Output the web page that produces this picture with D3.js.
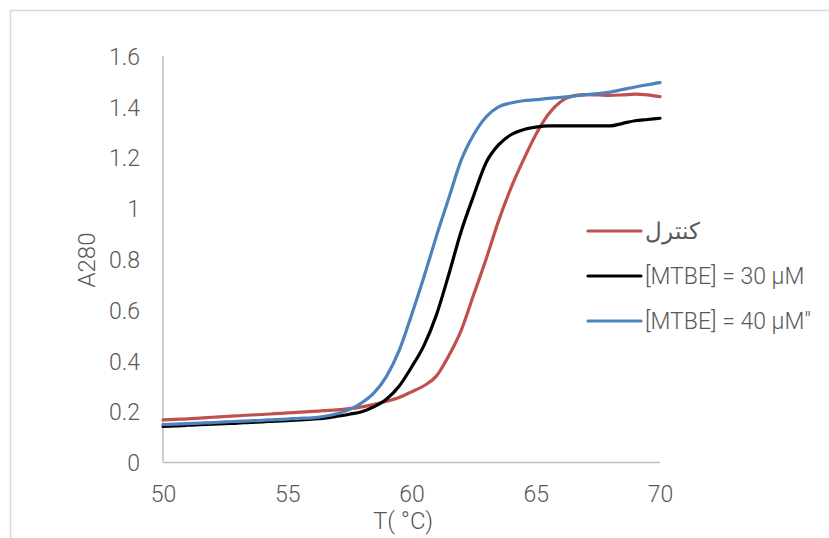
<!DOCTYPE html>
<html><head><meta charset="utf-8">
<script src="https://cdn.jsdelivr.net/npm/d3@7"></script>
<style>
body{margin:0;background:#fff;}
svg text{font-family:Roboto,"Noto Sans",sans-serif;fill:#595959;font-weight:300;}
</style></head>
<body>
<svg id="c" width="829" height="538"></svg>
<script>
const temps = [50,50.5,51,51.5,52,52.5,53,53.5,54,54.5,55,55.5,56,56.5,57,57.5,58,58.5,59,59.5,60,60.5,61,61.5,62,62.5,63,63.5,64,64.5,65,65.5,66,66.5,67,67.5,68,68.5,69,69.5,70];
const control = [0.168,0.170,0.172,0.175,0.178,0.181,0.184,0.187,0.189,0.192,0.195,0.198,0.201,0.204,0.207,0.212,0.219,0.229,0.241,0.256,0.278,0.302,0.340,0.420,0.520,0.660,0.800,0.950,1.080,1.190,1.290,1.370,1.420,1.443,1.448,1.447,1.445,1.447,1.450,1.447,1.440];
const mtbe30 = [0.142,0.144,0.147,0.149,0.151,0.153,0.155,0.158,0.160,0.163,0.165,0.168,0.171,0.175,0.182,0.190,0.200,0.220,0.250,0.300,0.375,0.460,0.580,0.740,0.910,1.050,1.180,1.250,1.290,1.310,1.320,1.325,1.325,1.325,1.325,1.325,1.325,1.335,1.345,1.350,1.355];
const mtbe40 = [0.149,0.151,0.153,0.155,0.157,0.160,0.162,0.164,0.166,0.169,0.171,0.174,0.176,0.182,0.192,0.208,0.235,0.275,0.340,0.440,0.580,0.730,0.890,1.040,1.190,1.290,1.360,1.400,1.415,1.424,1.428,1.433,1.437,1.442,1.447,1.452,1.458,1.468,1.478,1.487,1.495];
const seriesNames = ["كنترل","[MTBE] = 30 µM","[MTBE] = 40 µM\""];
const seriesColors = ["#c0504d","#000000","#4f81bd"];
const xTicks = [50,55,60,65,70];
const yTicks = [0,0.2,0.4,0.6,0.8,1,1.2,1.4,1.6];

const svg = d3.select("#c");
// outer frame
svg.append("path").attr("d","M10.5,538 V10.5 H829").attr("fill","none").attr("stroke","#d9d9d9").attr("stroke-width",1.5);

const x = d3.scaleLinear().domain([50,70]).range([163,660]);
const y = d3.scaleLinear().domain([0,1.6]).range([462.5,56]);

// axes lines
svg.append("line").attr("x1",x(50)).attr("x2",x(50)).attr("y1",y(1.6)).attr("y2",y(0)).attr("stroke","#bfbfbf").attr("stroke-width",1.5);
svg.append("line").attr("x1",x(50)).attr("x2",x(70)).attr("y1",y(0)).attr("y2",y(0)).attr("stroke","#bfbfbf").attr("stroke-width",1.5);

const yAxis = d3.axisLeft(y).tickValues(yTicks).tickSize(0).tickPadding(23).tickFormat(d=>String(d));
const gy = svg.append("g").attr("transform",`translate(${x(50)},0)`).call(yAxis);
gy.select(".domain").remove();
gy.selectAll("text").style("font-size","23px").attr("fill","#595959").attr("dy","0.36em");

const xAxis = d3.axisBottom(x).tickValues(xTicks).tickSize(0).tickPadding(23).tickFormat(d=>String(d));
const gx = svg.append("g").attr("transform",`translate(0,${y(0)})`).call(xAxis);
gx.select(".domain").remove();
gx.selectAll("text").style("font-size","23px").attr("fill","#595959");

const line = d3.line().x((d,i)=>x(temps[i])).y(d=>y(d)).curve(d3.curveMonotoneX);
[control,mtbe30,mtbe40].forEach((s,k)=>{
  svg.append("path").datum(s).attr("d",line).attr("fill","none")
    .attr("stroke",seriesColors[k]).attr("stroke-width",3.2).attr("stroke-linejoin","round").attr("stroke-linecap","round");
});

// axis titles
svg.append("text").attr("transform","translate(95,260) rotate(-90)").attr("text-anchor","middle")
  .style("font-size","24px").text("A280");
svg.append("text").attr("x",403).attr("y",529).attr("text-anchor","middle").style("font-size","24px").text("T( °C)");

// legend
const lg = svg.append("g");
const ly = [231,276,321];
seriesNames.forEach((n,k)=>{
  lg.append("line").attr("x1",588).attr("x2",641).attr("y1",ly[k]).attr("y2",ly[k])
    .attr("stroke",seriesColors[k]).attr("stroke-width",3.2).attr("stroke-linecap","round");
  lg.append("text").attr("x",645).attr("y",ly[k]).attr("dy","0.35em").style("font-size","23px")
    .attr("direction","ltr").attr("unicode-bidi","plaintext").text(n);
});
</script>
</body></html>
